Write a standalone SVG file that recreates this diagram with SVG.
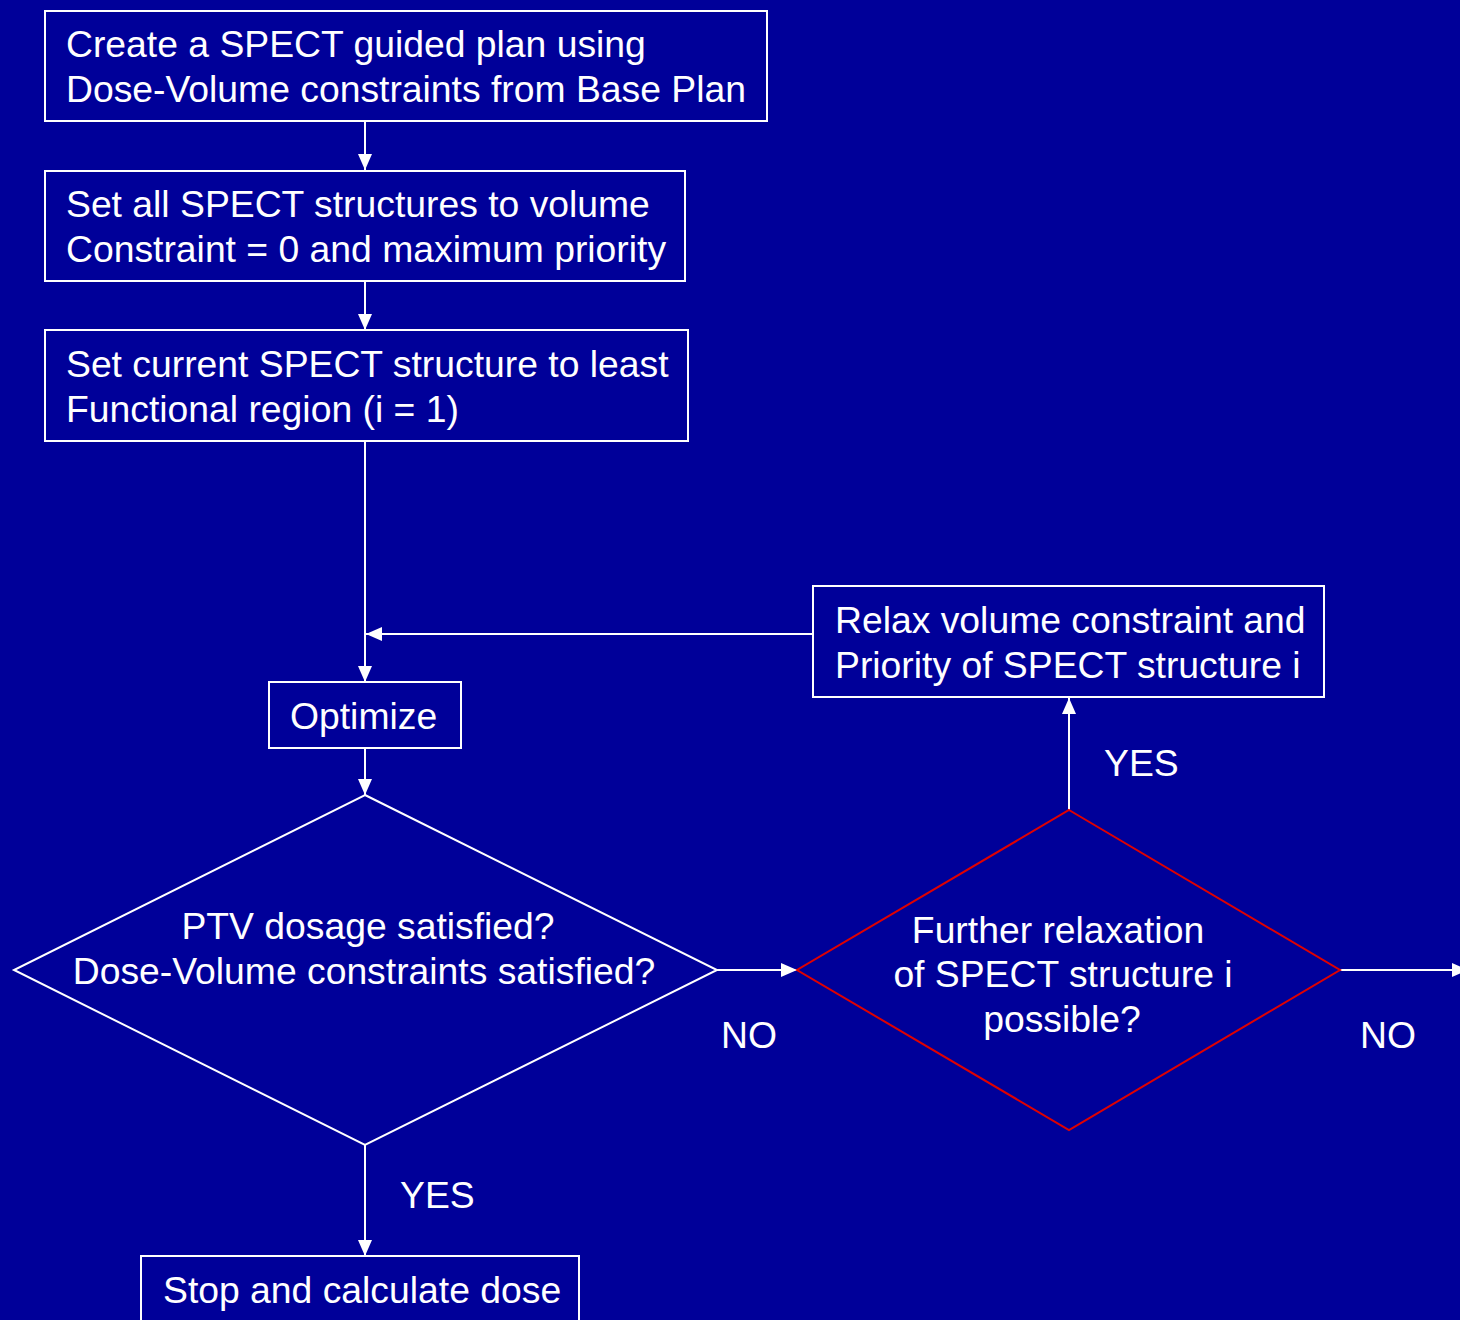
<svg xmlns="http://www.w3.org/2000/svg" width="1460" height="1320" viewBox="0 0 1460 1320">
<defs>
<style>
.box{fill:none;stroke:#fff;stroke-width:2}
.dia{fill:none;stroke:#fff;stroke-width:2}
.red{fill:none;stroke:#e00000;stroke-width:2}
.t{font-family:"Liberation Sans",Arial,sans-serif;font-size:37.3px;fill:#fff}
.c{text-anchor:middle}
.ln{stroke:#fff;stroke-width:2;fill:none}
</style>
<marker id="ah" markerWidth="16" markerHeight="14" refX="16" refY="7" orient="auto" markerUnits="userSpaceOnUse">
<path d="M0,0 L16,7 L0,14 Z" fill="#fff"/>
</marker>
</defs>
<rect width="1460" height="1320" fill="#000099"/>
<g id="connectors">
<line class="ln" x1="365" y1="121" x2="365" y2="170" marker-end="url(#ah)"/>
<line class="ln" x1="365" y1="281" x2="365" y2="330" marker-end="url(#ah)"/>
<line class="ln" x1="365" y1="441" x2="365" y2="682" marker-end="url(#ah)"/>
<line class="ln" x1="813" y1="634" x2="366" y2="634" marker-end="url(#ah)"/>
<line class="ln" x1="365" y1="748" x2="365" y2="795" marker-end="url(#ah)"/>
<line class="ln" x1="717" y1="970" x2="797" y2="970" marker-end="url(#ah)"/>
<line class="ln" x1="1069" y1="810" x2="1069" y2="698" marker-end="url(#ah)"/>
<line class="ln" x1="1340" y1="970" x2="1468" y2="970" marker-end="url(#ah)"/>
<line class="ln" x1="365" y1="1145" x2="365" y2="1256" marker-end="url(#ah)"/>
<text class="t" x="721" y="1048">NO</text>
<text class="t" x="1104" y="776">YES</text>
<text class="t" x="400" y="1208">YES</text>
<text class="t" x="1360" y="1048">NO</text>
</g>
<g id="n1">
<rect class="box" x="45" y="11" width="722" height="110"/>
<text class="t" x="66" y="57">Create a SPECT guided plan using</text>
<text class="t" x="66" y="102">Dose-Volume constraints from Base Plan</text>
</g>
<g id="n2">
<rect class="box" x="45" y="171" width="640" height="110"/>
<text class="t" x="66" y="217">Set all SPECT structures to volume</text>
<text class="t" x="66" y="262">Constraint = 0 and maximum priority</text>
</g>
<g id="n3">
<rect class="box" x="45" y="330" width="643" height="111"/>
<text class="t" x="66" y="377">Set current SPECT structure to least</text>
<text class="t" x="66" y="422">Functional region (i = 1)</text>
</g>
<g id="n4">
<rect class="box" x="269" y="682" width="192" height="66"/>
<text class="t" x="290" y="729">Optimize</text>
</g>
<g id="n5">
<rect class="box" x="813" y="586" width="511" height="111"/>
<text class="t" x="835" y="633">Relax volume constraint and</text>
<text class="t" x="835" y="678">Priority of SPECT structure i</text>
</g>
<g id="n6">
<polygon class="dia" points="365,795 717,970 365,1145 14,970"/>
<text class="t c" x="368" y="939">PTV dosage satisfied?</text>
<text class="t c" x="364" y="984">Dose-Volume constraints satisfied?</text>
</g>
<g id="n7">
<polygon class="red" points="1069,810 1340,970 1069,1130 797,970"/>
<text class="t c" x="1058" y="943">Further relaxation</text>
<text class="t c" x="1063" y="987">of SPECT structure i</text>
<text class="t c" x="1062" y="1032">possible?</text>
</g>
<g id="n8">
<rect class="box" x="141" y="1256" width="438" height="80"/>
<text class="t" x="163" y="1303">Stop and calculate dose</text>
</g>
</svg>
